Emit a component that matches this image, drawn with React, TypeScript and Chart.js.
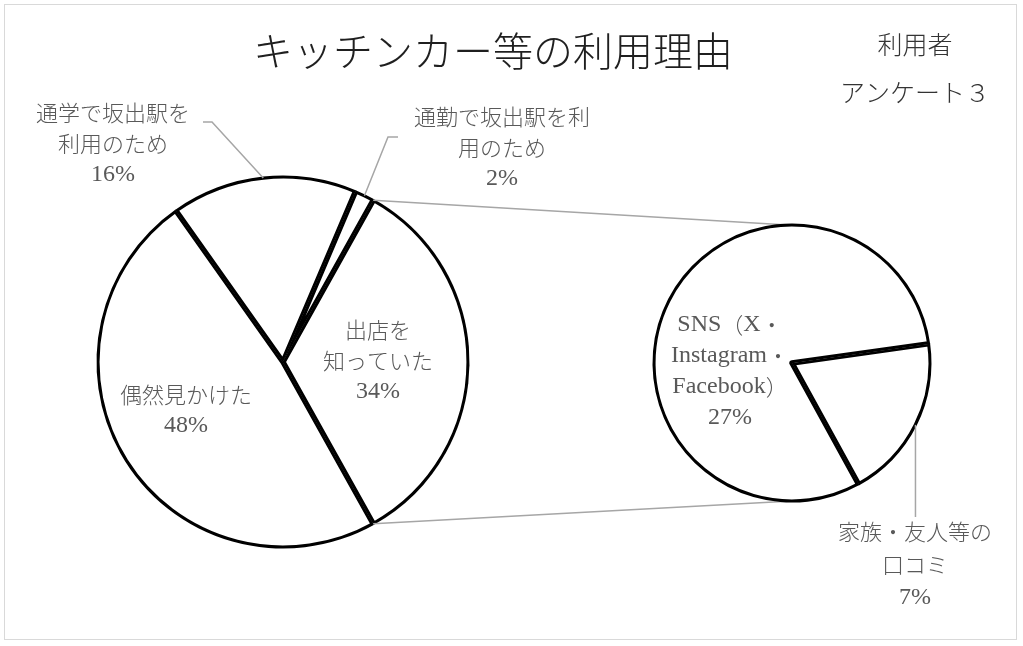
import React, { useEffect, useRef } from 'react';
import { Chart, registerables } from 'chart.js';

Chart.register(...registerables);

// ---- data ----
const title = 'キッチンカー等の利用理由';
const noteLines = ['利用者', 'アンケート３'];

const mainCategories = ['偶然見かけた', '通学で坂出駅を利用のため', '通勤で坂出駅を利用のため', '出店を知っていた'];
const mainValues = [48.3, 16.2, 1.7, 33.8];
const mainLabelLines = [['偶然見かけた'], ['通学で坂出駅を', '利用のため'], ['通勤で坂出駅を利', '用のため'], ['出店を', '知っていた']];

const subCategories = ['家族・友人等の口コミ', 'SNS（X・Instagram・Facebook）'];
const subValues = [6.5, 27.3];
const subLabelLines = [['家族・友人等の', '口コミ'], ['SNS（X・', 'Instagram・', 'Facebook）']];

// ---- layout / style ----
const W = 1023;
const H = 646;
const LATIN = '"Liberation Serif", serif';
const CJK = '"Noto Sans CJK JP", sans-serif';
const LABEL_COLOR = '#595959';
const LEADER_COLOR = '#a6a6a6';

const mainLabelPos = [
  { x: 186, y: 395 },
  { x: 113, y: 113 },
  { x: 502, y: 117 },
  { x: 378, y: 330 },
];
const subLabelPos = [
  { x: 915, y: 532 },
  { x: 730, y: 325 },
];

function drawMixed(
  ctx: CanvasRenderingContext2D,
  text: string,
  cx: number,
  cy: number,
  cjkSize: number,
  latinSize: number,
  weight: number
) {
  const runs = text.match(/[\x00-\x7F]+|[^\x00-\x7F]+/g) || [];
  const fonts = runs.map((r) =>
    /^[\x00-\x7F]/.test(r) ? `${latinSize}px ${LATIN}` : `${weight} ${cjkSize}px ${CJK}`
  );
  const widths = runs.map((r, i) => {
    ctx.font = fonts[i];
    return ctx.measureText(r).width;
  });
  const totalW = widths.reduce((a, b) => a + b, 0);
  let x = cx - totalW / 2;
  ctx.textAlign = 'left';
  ctx.textBaseline = 'middle';
  runs.forEach((r, i) => {
    ctx.font = fonts[i];
    ctx.fillText(r, x, cy);
    x += widths[i];
  });
}

export default function App() {
  const c1 = useRef<HTMLCanvasElement>(null);
  const c2 = useRef<HTMLCanvasElement>(null);

  useEffect(() => {
    document.body.style.margin = '0';
    const total = mainValues.reduce((a, b) => a + b, 0);
    const pct = (v: number) => Math.round((v / total) * 100) + '%';

    const drawLines = (ctx: CanvasRenderingContext2D, lines: string[], x: number, y: number, lh: number) => {
      lines.forEach((t, i) => drawMixed(ctx, t, x, y + i * lh, 22, 24, 300));
    };
    const arcPoint = (arc: any, angle: number) => {
      const p = arc.getProps(['x', 'y', 'outerRadius'], true);
      const r = p.outerRadius - 1.4;
      return [p.x + Math.cos(angle) * r, p.y + Math.sin(angle) * r];
    };
    const arcMid = (arc: any) => {
      const p = arc.getProps(['startAngle', 'endAngle'], true);
      return arcPoint(arc, (p.startAngle + p.endAngle) / 2);
    };
    const polyline = (ctx: CanvasRenderingContext2D, pts: number[][]) => {
      ctx.beginPath();
      ctx.moveTo(pts[0][0], pts[0][1]);
      for (let i = 1; i < pts.length; i++) ctx.lineTo(pts[i][0], pts[i][1]);
      ctx.stroke();
    };

    const mainPlugin = {
      id: 'mainDeco',
      afterDraw(chart: any) {
        const ctx = chart.ctx as CanvasRenderingContext2D;
        const arcs = chart.getDatasetMeta(0).data;
        ctx.save();
        // title
        ctx.fillStyle = '#1f1f1f';
        drawMixed(ctx, title, 493, 51, 40, 40, 300);
        ctx.fillStyle = '#333333';
        drawMixed(ctx, noteLines[0], 915, 44, 25, 25, 300);
        drawMixed(ctx, noteLines[1], 915, 92, 25, 25, 300);

        // leader lines for outside labels
        ctx.strokeStyle = LEADER_COLOR;
        ctx.lineWidth = 1.5;
        polyline(ctx, [[203, 122], [212, 122], arcMid(arcs[1])]);
        polyline(ctx, [[398, 137], [388, 137], arcMid(arcs[2])]);

        // labels
        ctx.fillStyle = LABEL_COLOR;
        mainLabelLines.forEach((lines, i) => {
          const pos = mainLabelPos[i];
          drawLines(ctx, [...lines, pct(mainValues[i])], pos.x, pos.y, 31);
        });
        ctx.restore();
      },
    };

    const chart1 = new Chart(c1.current!, {
      type: 'pie',
      data: {
        labels: mainCategories,
        datasets: [
          {
            data: mainValues,
            backgroundColor: '#ffffff',
            borderColor: '#000000',
            borderWidth: 2.75,
            borderAlign: 'inner',
            radius: 186.5,
            rotation: 90 + (180 * mainValues[3]) / total,
          } as any,
        ],
      },
      options: {
        responsive: false,
        animation: false,
        events: [],
        devicePixelRatio: 1,
        layout: { padding: { left: 0, right: W - 566, top: 78, bottom: 0 } },
        plugins: { legend: { display: false }, tooltip: { enabled: false }, title: { display: false } },
      } as any,
      plugins: [mainPlugin],
    });

    const subPlugin = {
      id: 'subDeco',
      beforeDatasetsDraw(chart: any) {
        const ctx = chart.ctx as CanvasRenderingContext2D;
        const mArcs = chart1.getDatasetMeta(0).data;
        const other: any = mArcs[3];
        const op = other.getProps(['startAngle', 'endAngle'], true);
        const sArc: any = chart.getDatasetMeta(0).data[0];
        const sp = sArc.getProps(['x', 'y', 'outerRadius'], true);
        ctx.save();
        ctx.strokeStyle = LEADER_COLOR;
        ctx.lineWidth = 1.5;
        polyline(ctx, [arcPoint(other, op.startAngle), [sp.x - 4, sp.y - sp.outerRadius + 1.5]]);
        polyline(ctx, [arcPoint(other, op.endAngle), [sp.x, sp.y + sp.outerRadius - 1.5]]);
        ctx.restore();
      },
      afterDraw(chart: any) {
        const ctx = chart.ctx as CanvasRenderingContext2D;
        const arcs = chart.getDatasetMeta(0).data;
        ctx.save();
        ctx.strokeStyle = LEADER_COLOR;
        ctx.lineWidth = 1.5;
        const m = arcMid(arcs[0]);
        polyline(ctx, [m, [m[0], 517]]);
        ctx.fillStyle = LABEL_COLOR;
        subLabelLines.forEach((lines, i) => {
          const pos = subLabelPos[i];
          drawLines(ctx, [...lines, pct(subValues[i])], pos.x, pos.y, i === 0 ? 33 : 31);
        });
        ctx.restore();
      },
    };

    const chart2 = new Chart(c2.current!, {
      type: 'pie',
      data: {
        labels: subCategories,
        datasets: [
          {
            data: subValues,
            backgroundColor: '#ffffff',
            borderColor: '#000000',
            borderWidth: 2.75,
            borderAlign: 'inner',
            radius: 139.5,
            rotation: 82,
          } as any,
        ],
      },
      options: {
        responsive: false,
        animation: false,
        events: [],
        devicePixelRatio: 1,
        layout: { padding: { left: 561, right: 0, top: 80, bottom: 0 } },
        plugins: { legend: { display: false }, tooltip: { enabled: false }, title: { display: false } },
      } as any,
      plugins: [subPlugin],
    });

    return () => {
      chart2.destroy();
      chart1.destroy();
    };
  }, []);

  return (
    <div style={{ position: 'relative', width: W, height: H, background: '#ffffff', overflow: 'hidden' }}>
      <div
        style={{
          position: 'absolute',
          left: 4,
          top: 4,
          width: 1013,
          height: 636,
          border: '1px solid #d9d9d9',
          boxSizing: 'border-box',
        }}
      />
      <canvas ref={c1} width={W} height={H} style={{ position: 'absolute', left: 0, top: 0 }} />
      <canvas ref={c2} width={W} height={H} style={{ position: 'absolute', left: 0, top: 0 }} />
    </div>
  );
}
